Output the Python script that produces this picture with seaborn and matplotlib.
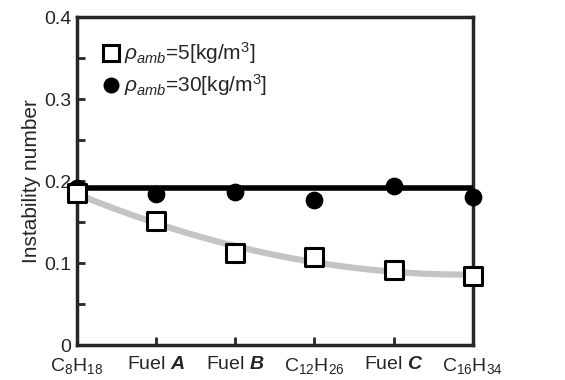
import numpy as np
import pandas as pd
import matplotlib
matplotlib.use("Agg")
import matplotlib.pyplot as plt
import seaborn as sns
from matplotlib.lines import Line2D
from matplotlib.ticker import MultipleLocator

categories = [r"C$_{8}$H$_{18}$", r"Fuel $\mathbfit{A}$", r"Fuel $\mathbfit{B}$",
              r"C$_{12}$H$_{26}$", r"Fuel $\mathbfit{C}$", r"C$_{16}$H$_{34}$"]
rho5 = [0.185, 0.151, 0.112, 0.107, 0.091, 0.084]
rho30 = [0.191, 0.184, 0.187, 0.177, 0.194, 0.180]
mean30_level = 0.191
label5 = r"$\rho_{amb}$=5[kg/m$^{3}$]"
label30 = r"$\rho_{amb}$=30[kg/m$^{3}$]"
yticks = [0, 0.1, 0.2, 0.3, 0.4]
yticklabels = ["0", "0.1", "0.2", "0.3", "0.4"]

sns.set_style("ticks")
plt.rcParams["font.family"] = ["Liberation Sans", "DejaVu Sans"]
plt.rcParams["mathtext.fontset"] = "custom"
plt.rcParams["mathtext.rm"] = "Liberation Sans"
plt.rcParams["mathtext.it"] = "Liberation Sans:italic"
plt.rcParams["mathtext.bf"] = "Liberation Sans:bold"
plt.rcParams["mathtext.bfit"] = "Liberation Sans:italic:bold"

x = np.arange(len(categories))
df = pd.DataFrame({"x": x, "rho5": rho5, "rho30": rho30})

fig = plt.figure(figsize=(5.65, 3.8), dpi=100)
ax = fig.add_axes([0.136, 0.092, 0.701, 0.863])

# trend curve of rho=5 (quadratic fit of the data)
coef = np.polyfit(x, rho5, 2)
xs = np.linspace(0, len(categories) - 1, 100)
trend = pd.DataFrame({"x": xs, "y": np.polyval(coef, xs)})
sns.lineplot(data=trend, x="x", y="y", ax=ax, color="#c4c4c4", lw=4.5, zorder=2)

# horizontal level for rho=30
lev = pd.DataFrame({"x": [0, len(categories) - 1], "y": [mean30_level] * 2})
sns.lineplot(data=lev, x="x", y="y", ax=ax, color="black", lw=4, zorder=3)

sns.scatterplot(data=df, x="x", y="rho30", ax=ax, marker="o", s=140,
                color="black", edgecolor="black", zorder=4, clip_on=False)
sns.scatterplot(data=df, x="x", y="rho5", ax=ax, marker="s", s=160,
                facecolor="white", edgecolor="black", linewidth=2.2, zorder=5, clip_on=False)

ax.set_xlim(0, len(categories) - 1)
ax.set_ylim(0, 0.4)
ax.set_xticks(x)
ax.set_xticklabels(categories, fontsize=14)
ax.set_yticks(yticks)
ax.set_yticklabels(yticklabels, fontsize=14)
ax.yaxis.set_minor_locator(MultipleLocator(0.05))
ax.tick_params(axis="both", which="both", direction="in", length=6, width=2)
ax.tick_params(axis="x", pad=8)
ax.tick_params(axis="y", pad=4)
ax.set_xlabel("")
ax.set_ylabel("Instability number", fontsize=15, labelpad=2)
for s in ax.spines.values():
    s.set_linewidth(2.5)
    s.set_visible(True)

handles = [
    Line2D([], [], marker="s", ls="", ms=11, mfc="white", mec="black", mew=2.2),
    Line2D([], [], marker="o", ls="", ms=10.5, mfc="black", mec="black"),
]
ax.legend(handles, [label5, label30], loc="upper left", frameon=False,
          fontsize=15, handletextpad=0.1, handlelength=1.0, borderaxespad=0.0,
          bbox_to_anchor=(0.04, 0.955), labelspacing=0.3)

fig.savefig("out.png", dpi=100)
